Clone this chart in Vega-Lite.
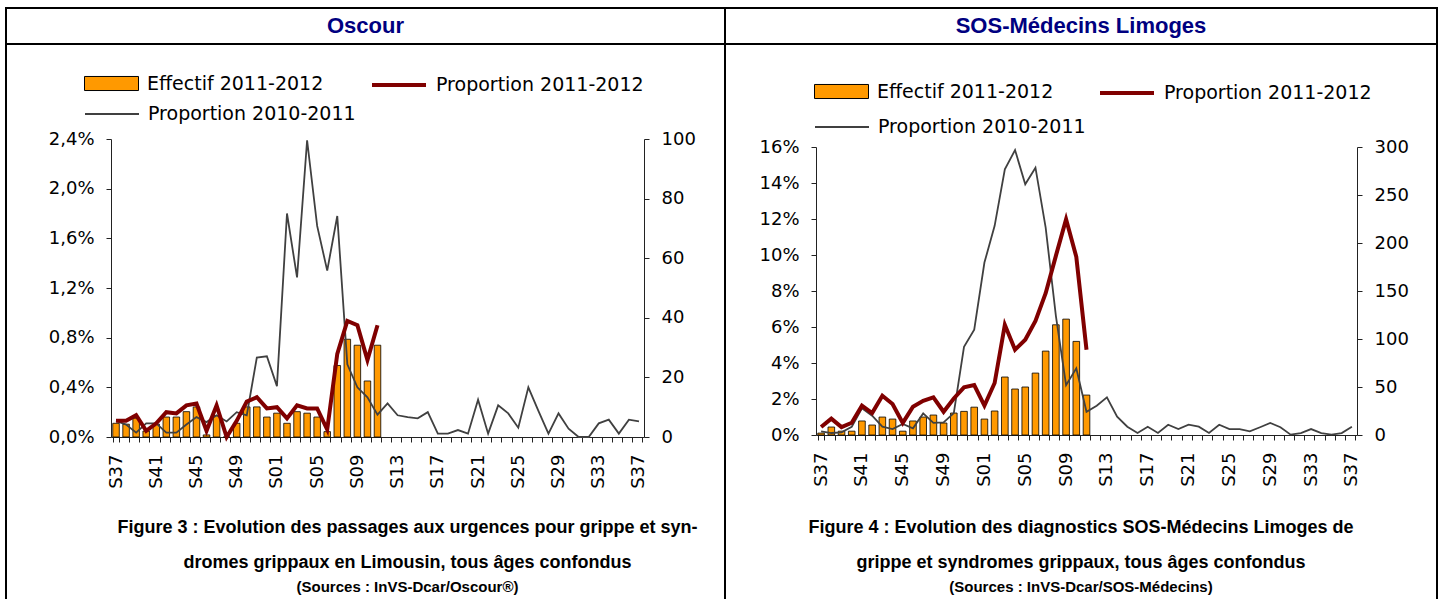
{
  "$schema": "https://vega.github.io/schema/vega-lite/v6.json",
  "padding": {"left": -4, "top": 7, "right": 0, "bottom": 0},
  "background": "white",
  "columns": 2,
  "spacing": 0,
  "bounds": "flush",
  "align": "each",
  "datasets": {
    "oscour": [
      {"wk": "2011-S37", "eff": 4.6, "p12": 0.13, "p11": 0.13},
      {"wk": "2011-S38", "eff": 4.3, "p12": 0.13, "p11": 0.10},
      {"wk": "2011-S39", "eff": 6.3, "p12": 0.175, "p11": 0.035},
      {"wk": "2011-S40", "eff": 2.0, "p12": 0.05, "p11": 0.11},
      {"wk": "2011-S41", "eff": 4.3, "p12": 0.11, "p11": 0.11},
      {"wk": "2011-S42", "eff": 6.7, "p12": 0.20, "p11": 0.035},
      {"wk": "2011-S43", "eff": 6.7, "p12": 0.19, "p11": 0.035},
      {"wk": "2011-S44", "eff": 8.5, "p12": 0.255, "p11": 0.10},
      {"wk": "2011-S45", "eff": 10.1, "p12": 0.27, "p11": 0.16},
      {"wk": "2011-S46", "eff": 0.7, "p12": 0.05, "p11": 0.12},
      {"wk": "2011-S47", "eff": 7.2, "p12": 0.255, "p11": 0.175},
      {"wk": "2011-S48", "eff": 0, "p12": 0.0, "p11": 0.125},
      {"wk": "2011-S49", "eff": 4.6, "p12": 0.13, "p11": 0.20},
      {"wk": "2011-S50", "eff": 10.1, "p12": 0.285, "p11": 0.175},
      {"wk": "2011-S51", "eff": 10.1, "p12": 0.32, "p11": 0.64},
      {"wk": "2011-S52", "eff": 6.7, "p12": 0.23, "p11": 0.65},
      {"wk": "2012-S01", "eff": 8.0, "p12": 0.24, "p11": 0.41},
      {"wk": "2012-S02", "eff": 4.6, "p12": 0.15, "p11": 1.80},
      {"wk": "2012-S03", "eff": 8.5, "p12": 0.255, "p11": 1.285},
      {"wk": "2012-S04", "eff": 8.0, "p12": 0.23, "p11": 2.39},
      {"wk": "2012-S05", "eff": 6.7, "p12": 0.23, "p11": 1.70},
      {"wk": "2012-S06", "eff": 1.8, "p12": 0.06, "p11": 1.34},
      {"wk": "2012-S07", "eff": 24.0, "p12": 0.67, "p11": 1.78},
      {"wk": "2012-S08", "eff": 32.8, "p12": 0.935, "p11": 0.585},
      {"wk": "2012-S09", "eff": 30.8, "p12": 0.90, "p11": 0.40},
      {"wk": "2012-S10", "eff": 18.8, "p12": 0.62, "p11": 0.32},
      {"wk": "2012-S11", "eff": 30.8, "p12": 0.90, "p11": 0.18},
      {"wk": "2012-S12", "p11": 0.27},
      {"wk": "2012-S13", "p11": 0.175},
      {"wk": "2012-S14", "p11": 0.16},
      {"wk": "2012-S15", "p11": 0.15},
      {"wk": "2012-S16", "p11": 0.20},
      {"wk": "2012-S17", "p11": 0.027},
      {"wk": "2012-S18", "p11": 0.027},
      {"wk": "2012-S19", "p11": 0.056},
      {"wk": "2012-S20", "p11": 0.027},
      {"wk": "2012-S21", "p11": 0.30},
      {"wk": "2012-S22", "p11": 0.027},
      {"wk": "2012-S23", "p11": 0.255},
      {"wk": "2012-S24", "p11": 0.19},
      {"wk": "2012-S25", "p11": 0.075},
      {"wk": "2012-S26", "p11": 0.40},
      {"wk": "2012-S27", "p11": 0.21},
      {"wk": "2012-S28", "p11": 0.027},
      {"wk": "2012-S29", "p11": 0.19},
      {"wk": "2012-S30", "p11": 0.067},
      {"wk": "2012-S31", "p11": 0},
      {"wk": "2012-S32", "p11": 0},
      {"wk": "2012-S33", "p11": 0.11},
      {"wk": "2012-S34", "p11": 0.14},
      {"wk": "2012-S35", "p11": 0.027},
      {"wk": "2012-S36", "p11": 0.14},
      {"wk": "2012-S37", "p11": 0.125}
    ],
    "sos": [
      {"wk": "2011-S37", "eff": 2, "p12": 0.44, "p11": 0.2},
      {"wk": "2011-S38", "eff": 8.3, "p12": 0.91, "p11": 0.11},
      {"wk": "2011-S39", "eff": 4, "p12": 0.44, "p11": 0.15},
      {"wk": "2011-S40", "eff": 4, "p12": 0.68, "p11": 0.46},
      {"wk": "2011-S41", "eff": 14.6, "p12": 1.63, "p11": 1.48},
      {"wk": "2011-S42", "eff": 10.4, "p12": 1.22, "p11": 1.07},
      {"wk": "2011-S43", "eff": 18.7, "p12": 2.18, "p11": 0.46},
      {"wk": "2011-S44", "eff": 16.6, "p12": 1.72, "p11": 0.33},
      {"wk": "2011-S45", "eff": 4, "p12": 0.67, "p11": 0.61},
      {"wk": "2011-S46", "eff": 14.6, "p12": 1.57, "p11": 0.37},
      {"wk": "2011-S47", "eff": 18.7, "p12": 1.9, "p11": 1.2},
      {"wk": "2011-S48", "eff": 20.8, "p12": 2.09, "p11": 0.67},
      {"wk": "2011-S49", "eff": 12.5, "p12": 1.29, "p11": 0.70},
      {"wk": "2011-S50", "eff": 22.9, "p12": 2.03, "p11": 1.22},
      {"wk": "2011-S51", "eff": 24.6, "p12": 2.65, "p11": 4.9},
      {"wk": "2011-S52", "eff": 29, "p12": 2.77, "p11": 5.85},
      {"wk": "2012-S01", "eff": 16.6, "p12": 1.63, "p11": 9.58},
      {"wk": "2012-S02", "eff": 25, "p12": 2.89, "p11": 11.62},
      {"wk": "2012-S03", "eff": 60.4, "p12": 6.12, "p11": 14.76},
      {"wk": "2012-S04", "eff": 47.9, "p12": 4.74, "p11": 15.83},
      {"wk": "2012-S05", "eff": 50, "p12": 5.29, "p11": 13.93},
      {"wk": "2012-S06", "eff": 64.5, "p12": 6.34, "p11": 14.85},
      {"wk": "2012-S07", "eff": 87.4, "p12": 7.88, "p11": 11.52},
      {"wk": "2012-S08", "eff": 114.8, "p12": 9.95, "p11": 6.62},
      {"wk": "2012-S09", "eff": 120.7, "p12": 11.99, "p11": 2.77},
      {"wk": "2012-S10", "eff": 97.5, "p12": 9.9, "p11": 3.7},
      {"wk": "2012-S11", "eff": 41.6, "p12": 4.74, "p11": 1.29},
      {"wk": "2012-S12", "p11": 1.63},
      {"wk": "2012-S13", "p11": 2.09},
      {"wk": "2012-S14", "p11": 1.02},
      {"wk": "2012-S15", "p11": 0.46},
      {"wk": "2012-S16", "p11": 0.11},
      {"wk": "2012-S17", "p11": 0.46},
      {"wk": "2012-S18", "p11": 0.11},
      {"wk": "2012-S19", "p11": 0.57},
      {"wk": "2012-S20", "p11": 0.33},
      {"wk": "2012-S21", "p11": 0.57},
      {"wk": "2012-S22", "p11": 0.46},
      {"wk": "2012-S23", "p11": 0.11},
      {"wk": "2012-S24", "p11": 0.57},
      {"wk": "2012-S25", "p11": 0.33},
      {"wk": "2012-S26", "p11": 0.33},
      {"wk": "2012-S27", "p11": 0.2},
      {"wk": "2012-S28", "p11": 0.43},
      {"wk": "2012-S29", "p11": 0.67},
      {"wk": "2012-S30", "p11": 0.43},
      {"wk": "2012-S31", "p11": 0.02},
      {"wk": "2012-S32", "p11": 0.11},
      {"wk": "2012-S33", "p11": 0.33},
      {"wk": "2012-S34", "p11": 0.11},
      {"wk": "2012-S35", "p11": 0.02},
      {"wk": "2012-S36", "p11": 0.11},
      {"wk": "2012-S37", "p11": 0.46}
    ]
  },
  "concat": [
    {
      "width": 719,
      "height": 36,
      "view": {"stroke": "#000", "strokeWidth": 2},
      "data": {"values": [{"t": "Oscour"}]},
      "mark": {"type": "text", "font": "Liberation Sans", "fontSize": 22, "fontWeight": "bold", "color": "#000080"},
      "encoding": {"text": {"field": "t", "type": "nominal"}}
    },
    {
      "width": 712,
      "height": 36,
      "view": {"stroke": "#000", "strokeWidth": 2},
      "data": {"values": [{"t": "SOS-Médecins Limoges"}]},
      "mark": {"type": "text", "font": "Liberation Sans", "fontSize": 22, "fontWeight": "bold", "color": "#000080"},
      "encoding": {"text": {"field": "t", "type": "nominal"}}
    },
    {
      "width": 719,
      "height": 560,
      "data": {"name": "oscour"},
      "title": {
        "text": ["Figure 3 : Evolution des passages aux urgences pour grippe et syn-", "dromes grippaux en Limousin, tous âges confondus"],
        "subtitle": "(Sources : InVS-Dcar/Oscour®)",
        "orient": "bottom",
        "anchor": "middle",
        "frame": "group",
        "offset": -85,
        "dx": 42,
        "font": "Liberation Sans",
        "fontSize": 18,
        "fontWeight": "bold",
        "lineHeight": 35,
        "color": "#000",
        "subtitleFont": "Liberation Sans",
        "subtitleFontSize": 15,
        "subtitleFontWeight": "bold",
        "subtitleColor": "#000",
        "subtitlePadding": 8
      },
      "layer": [
        {
          "mark": {"type": "bar", "stroke": "#000", "strokeWidth": 0.8},
          "encoding": {
            "x": {
              "field": "wk", "type": "ordinal",
              "scale": {"range": [105, 638], "paddingInner": 0.35, "paddingOuter": 0.175},
              "axis": {"orient": "bottom", "offset": -167, "tickBand": "extent", "tickSize": 5, "labelAngle": -90, "labelPadding": 12, "labelOverlap": false, "title": null,
                "labelExpr": "toNumber(substring(datum.value, 6)) % 4 == 1 ? substring(datum.value, 5) : ''"}
            },
            "y": {
              "field": "eff", "type": "quantitative",
              "scale": {"domain": [0, 100], "range": [393, 95], "nice": false},
              "axis": {"orient": "right", "offset": -81, "values": [0, 20, 40, 60, 80, 100], "title": null, "tickSize": 5, "labelPadding": 12}
            },
            "fill": {
              "datum": "Effectif 2011-2012", "type": "nominal",
              "scale": {"range": ["#FF9900"]},
              "legend": {"orient": "none", "legendX": 78, "legendY": 12, "symbolType": "M-1,-0.26H1V0.26H-1Z", "symbolSize": 2916, "symbolStrokeColor": "#000", "symbolStrokeWidth": 1}
            }
          }
        },
        {
          "layer": [
            {
              "mark": {"type": "line", "strokeWidth": 1.8},
              "encoding": {
                "x": {"field": "wk", "type": "ordinal"},
                "y": {
                  "field": "p11", "type": "quantitative",
                  "scale": {"domain": [0, 2.4], "range": [393, 95], "nice": false},
                  "axis": {"orient": "left", "offset": -105, "values": [0, 0.4, 0.8, 1.2, 1.6, 2.0, 2.4], "title": null, "tickSize": 5, "labelPadding": 12,
                    "labelExpr": "replace(format(datum.value, '.1f'), '.', ',') + '%'"}
                },
                "stroke": {
                  "datum": "Proportion 2010-2011", "type": "nominal",
                  "scale": {"range": ["#404040"]},
                  "legend": {"orient": "none", "legendX": 78, "legendY": 42, "symbolType": "stroke", "symbolSize": 2916, "symbolStrokeWidth": 1.8}
                }
              }
            },
            {
              "mark": {"type": "line", "strokeWidth": 4},
              "encoding": {
                "x": {"field": "wk", "type": "ordinal"},
                "y": {"field": "p12", "type": "quantitative"},
                "color": {
                  "datum": "Proportion 2011-2012", "type": "nominal",
                  "scale": {"range": ["#800000"]},
                  "legend": {"orient": "none", "legendX": 364, "legendY": 12, "symbolType": "stroke", "symbolSize": 2916, "symbolStrokeWidth": 4}
                }
              }
            }
          ]
        }
      ],
      "resolve": {"scale": {"y": "independent"}, "axis": {"y": "independent"}}
    },
    {
      "width": 712,
      "height": 560,
      "data": {"name": "sos"},
      "title": {
        "text": ["Figure 4 : Evolution des diagnostics SOS-Médecins Limoges de", "grippe et syndromes grippaux, tous âges confondus"],
        "subtitle": "(Sources : InVS-Dcar/SOS-Médecins)",
        "orient": "bottom",
        "anchor": "middle",
        "frame": "group",
        "offset": -85,
        "font": "Liberation Sans",
        "fontSize": 18,
        "fontWeight": "bold",
        "lineHeight": 35,
        "color": "#000",
        "subtitleFont": "Liberation Sans",
        "subtitleFontSize": 15,
        "subtitleFontWeight": "bold",
        "subtitleColor": "#000",
        "subtitlePadding": 8
      },
      "layer": [
        {
          "mark": {"type": "bar", "stroke": "#000", "strokeWidth": 0.8},
          "encoding": {
            "x": {
              "field": "wk", "type": "ordinal",
              "scale": {"range": [91, 632], "paddingInner": 0.35, "paddingOuter": 0.175},
              "axis": {"orient": "bottom", "offset": -169, "tickBand": "extent", "tickSize": 5, "labelAngle": -90, "labelPadding": 12, "labelOverlap": false, "title": null,
                "labelExpr": "toNumber(substring(datum.value, 6)) % 4 == 1 ? substring(datum.value, 5) : ''"}
            },
            "y": {
              "field": "eff", "type": "quantitative",
              "scale": {"domain": [0, 300], "range": [391, 103], "nice": false},
              "axis": {"orient": "right", "offset": -80, "values": [0, 50, 100, 150, 200, 250, 300], "title": null, "tickSize": 5, "labelPadding": 12}
            },
            "fill": {
              "datum": "Effectif 2011-2012", "type": "nominal",
              "scale": {"range": ["#FF9900"]},
              "legend": {"orient": "none", "legendX": 89, "legendY": 20, "symbolType": "M-1,-0.26H1V0.26H-1Z", "symbolSize": 2916, "symbolStrokeColor": "#000", "symbolStrokeWidth": 1}
            }
          }
        },
        {
          "layer": [
            {
              "mark": {"type": "line", "strokeWidth": 1.8},
              "encoding": {
                "x": {"field": "wk", "type": "ordinal"},
                "y": {
                  "field": "p11", "type": "quantitative",
                  "scale": {"domain": [0, 16], "range": [391, 103], "nice": false},
                  "axis": {"orient": "left", "offset": -91, "values": [0, 2, 4, 6, 8, 10, 12, 14, 16], "title": null, "tickSize": 5, "labelPadding": 12,
                    "labelExpr": "datum.value + '%'"}
                },
                "stroke": {
                  "datum": "Proportion 2010-2011", "type": "nominal",
                  "scale": {"range": ["#404040"]},
                  "legend": {"orient": "none", "legendX": 89, "legendY": 55, "symbolType": "stroke", "symbolSize": 2916, "symbolStrokeWidth": 1.8}
                }
              }
            },
            {
              "mark": {"type": "line", "strokeWidth": 4},
              "encoding": {
                "x": {"field": "wk", "type": "ordinal"},
                "y": {"field": "p12", "type": "quantitative"},
                "color": {
                  "datum": "Proportion 2011-2012", "type": "nominal",
                  "scale": {"range": ["#800000"]},
                  "legend": {"orient": "none", "legendX": 373, "legendY": 20, "symbolType": "stroke", "symbolSize": 2916, "symbolStrokeWidth": 4}
                }
              }
            }
          ]
        }
      ],
      "resolve": {"scale": {"y": "independent"}, "axis": {"y": "independent"}}
    }
  ],
  "resolve": {
    "scale": {"fill": "independent", "stroke": "independent", "color": "independent"},
    "legend": {"fill": "independent", "stroke": "independent", "color": "independent"}
  },
  "config": {
    "view": {"stroke": "#000", "strokeWidth": 2},
    "font": "DejaVu Sans",
    "axis": {"labelFont": "DejaVu Sans", "labelFontSize": 18, "labelColor": "#000", "domainColor": "#222", "tickColor": "#222", "grid": false},
    "legend": {
      "title": null,
      "padding": 0,
      "labelFont": "DejaVu Sans",
      "labelFontSize": 19,
      "labelColor": "#000",
      "labelLimit": 400,
      "labelOffset": 8,
      "symbolOpacity": 1
    }
  }
}
